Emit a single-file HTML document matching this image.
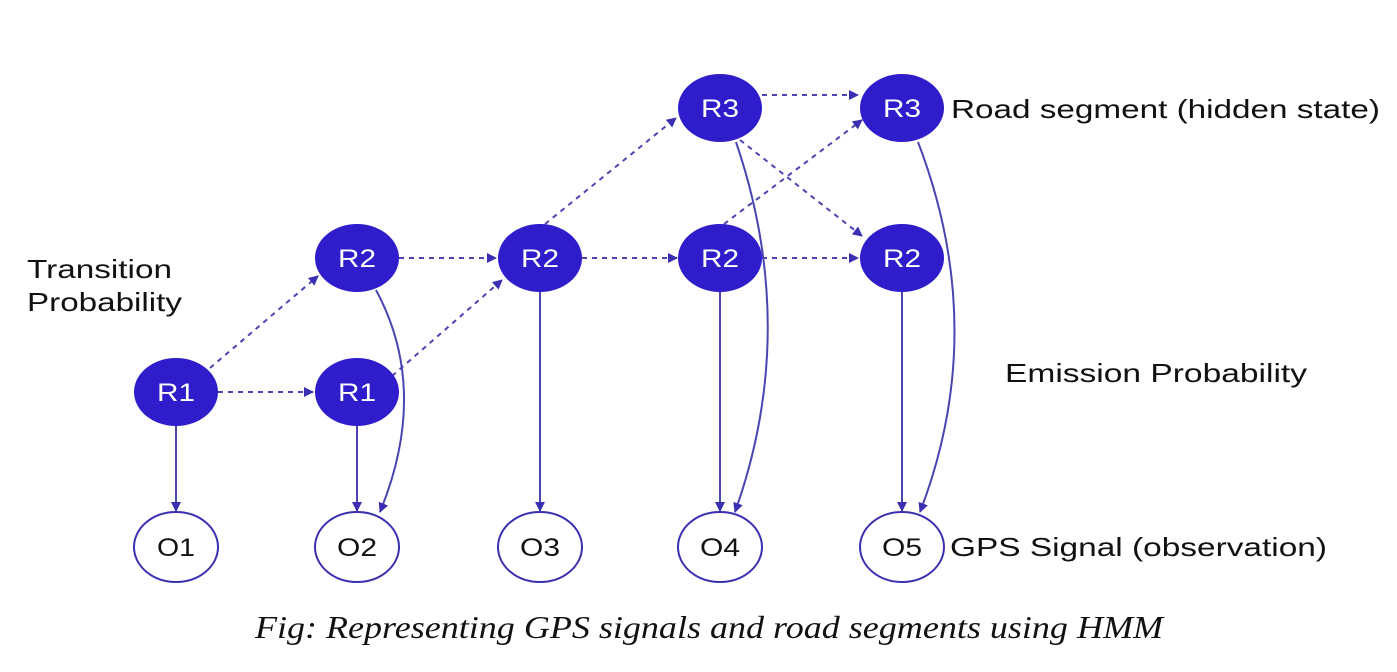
<!DOCTYPE html>
<html><head><style>
html,body{margin:0;padding:0;background:#fff;}
svg{display:block;}
</style></head><body>
<svg width="1397" height="672" viewBox="0 0 1397 672" xmlns="http://www.w3.org/2000/svg" font-family="Liberation Sans, sans-serif">
<defs>
<marker id="a" markerWidth="10" markerHeight="10" refX="9" refY="5" orient="auto" markerUnits="userSpaceOnUse">
<path d="M0,0 L10,5 L0,10 z" fill="#3a2fb0"/></marker>
</defs>
<g stroke="#4a45b0" stroke-width="2" fill="none">
<g stroke-dasharray="5,5" marker-end="url(#a)">
<line x1="218" y1="392" x2="313" y2="392"/>
<line x1="210" y1="368" x2="318" y2="276"/>
<line x1="392" y1="376" x2="502" y2="280"/>
<line x1="399" y1="258" x2="496" y2="258"/>
<line x1="582" y1="258" x2="677" y2="258"/>
<line x1="762" y1="258" x2="858" y2="258"/>
<line x1="545" y1="224" x2="676" y2="118"/>
<line x1="762" y1="95" x2="858" y2="95"/>
<line x1="724" y1="224" x2="862" y2="120"/>
<line x1="740" y1="140" x2="862" y2="236"/>
</g>
<g marker-end="url(#a)">
<line x1="176" y1="426" x2="176" y2="511"/>
<line x1="357" y1="426" x2="357" y2="511"/>
<line x1="540" y1="292" x2="540" y2="511"/>
<line x1="720" y1="292" x2="720" y2="511"/>
<line x1="902" y1="292" x2="902" y2="511"/>
<path d="M376,290 Q430,390 380,512"/>
<path d="M736,142 Q800,330 735,512"/>
<path d="M918,142 Q990,330 920,512"/>
</g>
</g>
<g fill="#2f1dcc">
<ellipse cx="176" cy="392" rx="42" ry="34"/>
<ellipse cx="357" cy="392" rx="42" ry="34"/>
<ellipse cx="357" cy="258" rx="42" ry="34"/>
<ellipse cx="540" cy="258" rx="42" ry="34"/>
<ellipse cx="720" cy="258" rx="42" ry="34"/>
<ellipse cx="902" cy="258" rx="42" ry="34"/>
<ellipse cx="720" cy="108" rx="42" ry="34"/>
<ellipse cx="902" cy="108" rx="42" ry="34"/>
</g>
<g fill="#fff" stroke="#3a2fb0" stroke-width="2">
<ellipse cx="176" cy="547" rx="42" ry="35"/>
<ellipse cx="357" cy="547" rx="42" ry="35"/>
<ellipse cx="540" cy="547" rx="42" ry="35"/>
<ellipse cx="720" cy="547" rx="42" ry="35"/>
<ellipse cx="902" cy="547" rx="42" ry="35"/>
</g>
<g fill="#fff" font-size="25" text-anchor="middle" lengthAdjust="spacingAndGlyphs">
<text x="176" y="401" textLength="38" lengthAdjust="spacingAndGlyphs">R1</text><text x="357" y="401" textLength="38" lengthAdjust="spacingAndGlyphs">R1</text>
<text x="357" y="267" textLength="38" lengthAdjust="spacingAndGlyphs">R2</text><text x="540" y="267" textLength="38" lengthAdjust="spacingAndGlyphs">R2</text>
<text x="720" y="267" textLength="38" lengthAdjust="spacingAndGlyphs">R2</text><text x="902" y="267" textLength="38" lengthAdjust="spacingAndGlyphs">R2</text>
<text x="720" y="117" textLength="38" lengthAdjust="spacingAndGlyphs">R3</text><text x="902" y="117" textLength="38" lengthAdjust="spacingAndGlyphs">R3</text>
</g>
<g fill="#111" font-size="25" text-anchor="middle">
<text x="176" y="556" textLength="38" lengthAdjust="spacingAndGlyphs">O1</text><text x="357" y="556" textLength="40" lengthAdjust="spacingAndGlyphs">O2</text>
<text x="540" y="556" textLength="40" lengthAdjust="spacingAndGlyphs">O3</text><text x="720" y="556" textLength="40" lengthAdjust="spacingAndGlyphs">O4</text>
<text x="902" y="556" textLength="40" lengthAdjust="spacingAndGlyphs">O5</text>
</g>
<g fill="#111" font-size="26">
<text x="951" y="118" textLength="429" lengthAdjust="spacingAndGlyphs">Road segment (hidden state)</text>
<text x="27" y="278" textLength="145" lengthAdjust="spacingAndGlyphs">Transition</text>
<text x="27" y="311" textLength="155" lengthAdjust="spacingAndGlyphs">Probability</text>
<text x="1005" y="382" textLength="302" lengthAdjust="spacingAndGlyphs">Emission Probability</text>
<text x="950" y="556" textLength="377" lengthAdjust="spacingAndGlyphs">GPS Signal (observation)</text>
</g>
<text x="255" y="638" textLength="908" lengthAdjust="spacingAndGlyphs" style="font-family:'Liberation Serif',serif;font-style:italic" font-size="32" fill="#111">Fig: Representing GPS signals and road segments using HMM</text>
</svg>
</body></html>
